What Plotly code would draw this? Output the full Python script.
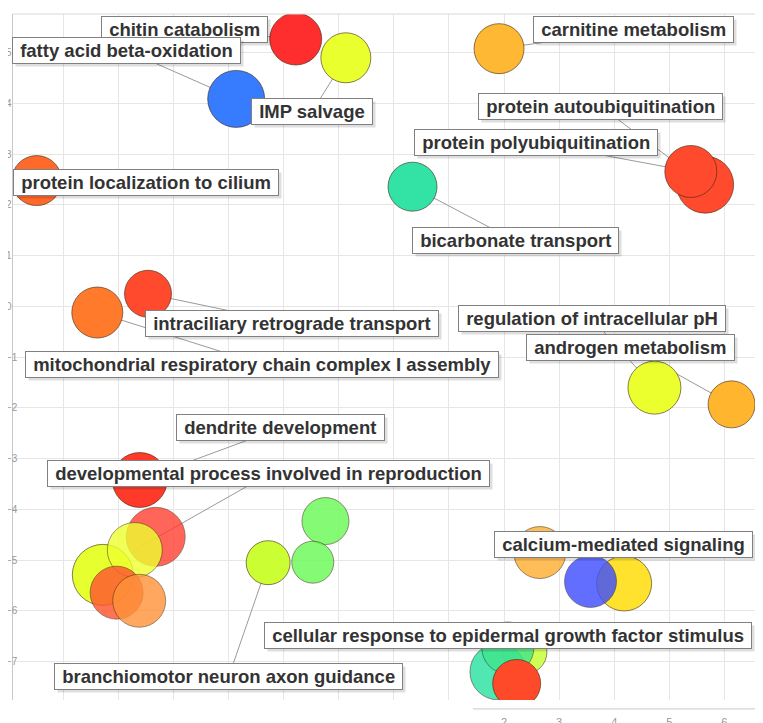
import plotly.graph_objects as go

# bubbles (drawn in this order, later ones on top)
terms = [
    "chitin catabolism", "IMP salvage", "fatty acid beta-oxidation",
    "protein localization to cilium", "carnitine metabolism", "bicarbonate transport",
    "protein autoubiquitination", "protein polyubiquitination",
    "intraciliary retrograde transport", "mitochondrial respiratory chain complex I assembly",
    "regulation of intracellular pH", "androgen metabolism", "dendrite development",
    "", "", "developmental process involved in reproduction", "", "",
    "", "", "branchiomotor neuron axon guidance",
    "", "calcium-mediated signaling", "",
    "", "", "cellular response to epidermal growth factor stimulus", "",
]
xs = [-1.78, -0.87, -2.86, -6.48, 1.91, 0.34, 5.65, 5.39, -4.46, -5.38,
      4.73, 6.13, -4.61, -4.32, -5.28, -4.70, -5.03, -4.62, -1.24, -1.47,
      -2.28, 2.65, 4.18, 3.57, 2.38, 1.89, 2.07, 2.23]
ys = [5.27, 4.90, 4.09, 2.48, 5.08, 2.36, 2.40, 2.66, 0.25, -0.12,
      -1.60, -1.93, -3.42, -4.54, -5.29, -4.80, -5.64, -5.80, -4.23, -5.04,
      -5.05, -4.85, -5.46, -5.42, -6.81, -7.20, -6.73, -7.43]
sizes = [2.60, 2.50, 2.85, 2.50, 2.50, 2.45, 2.85, 2.60, 2.35, 2.55,
         2.65, 2.35, 2.75, 2.95, 3.05, 2.75, 2.65, 2.65, 2.35, 2.10,
         2.20, 2.60, 2.75, 2.60, 2.20, 2.80, 2.60, 2.40]

colors = ["#FF2E2E", "#EAFF2E", "#377BFF", "#FF6A2A", "#FFB833", "#33E3A6",
          "#FF4A2E", "#FF4A2E", "#FF4A2E", "#FF7A2A", "#EBFF2E", "#FFB52E",
          "#FF3A2A", "#FF3A2A", "#E6FF2E", "#EEFF30", "#FF5530", "#FF9238",
          "#70FA5E", "#70FA5E", "#CCFF33", "#FFB23A", "#FFE22E", "#3F4FFF",
          "#CCFF44", "#33E3A6", "#3EE58A", "#FF4A2A"]
alphas = [1, 1, 1, 1, 1, 1, 1, 1, 1, 1, 1, 1, 1, 0.78, 1, 0.8, 0.82, 0.8,
          0.85, 0.85, 1, 0.85, 1, 0.82, 0.9, 0.85, 0.8, 1]

# label box centres, same order as terms ("" = no label)
label_x = [-3.79, -1.485, -4.842, -4.497, 4.359, 2.20, 3.76, 2.581, -1.848, -2.392,
           3.588, 4.287, -2.047, None, None, -2.265, None, None, None, None,
           -2.991, None, 4.169, None, None, None, 2.064, None]
label_y = [5.467, 3.837, 5.039, 2.437, 5.453, 1.293, 3.935, 3.226, -0.343, -1.142,
           -0.235, -0.816, -2.393, None, None, -3.30, None, None, None, None,
           -7.283, None, -4.70, None, None, None, -6.485, None]

fig = go.Figure()

# connector lines from label to bubble
cx, cy = [], []
for i, t in enumerate(terms):
    if t:
        cx += [label_x[i], xs[i], None]
        cy += [label_y[i], ys[i], None]
fig.add_trace(go.Scatter(x=cx, y=cy, mode="lines",
                         line=dict(color="#9a9a9a", width=1),
                         hoverinfo="skip", showlegend=False))

fig.add_trace(go.Scatter(
    x=xs, y=ys, mode="markers", text=terms, showlegend=False,
    marker=dict(size=sizes, sizemode="diameter", sizeref=0.05,
                color=colors, opacity=alphas,
                line=dict(color="rgba(60,40,20,0.6)", width=1)),
))

lab_font = dict(family="Liberation Sans, Arial", size=18.5, weight="bold")
for i, t in enumerate(terms):
    if not t:
        continue
    # shadow
    fig.add_annotation(x=label_x[i], y=label_y[i], text="&nbsp;" + t + "&nbsp;",
                       showarrow=False, xshift=3, yshift=-3,
                       bgcolor="rgba(0,0,0,0.13)", borderpad=2, borderwidth=1,
                       bordercolor="rgba(0,0,0,0)",
                       font=dict(lab_font, color="rgba(0,0,0,0)"))
    fig.add_annotation(x=label_x[i], y=label_y[i], text="&nbsp;" + t + "&nbsp;",
                       showarrow=False, bgcolor="white", borderpad=2, borderwidth=1,
                       bordercolor="#808080",
                       font=dict(lab_font, color="#333333"))

xticks = list(range(-6, 7))
xticktext = [str(v) if v >= 2 else "" for v in xticks]

fig.update_xaxes(range=[-6.91, 6.573], tickvals=xticks, ticktext=xticktext,
                 showgrid=True, gridcolor="#e6e6e6", zeroline=False,
                 showline=False, ticks="outside", ticklen=12,
                 tickcolor="rgba(0,0,0,0)", automargin=False,
                 tickfont=dict(family="Liberation Sans, Arial", size=11, color="#999999"))
fig.update_yaxes(range=[-7.756, 5.763], dtick=1, tick0=0,
                 showgrid=True, gridcolor="#e6e6e6", zeroline=False,
                 showline=True, linecolor="#c8c8c8", ticks="",
                 ticklabelposition="inside", ticklabelstandoff=-8,
                 automargin=False,
                 tickfont=dict(family="Liberation Sans, Arial", size=10, color="#999999"))

# page body adds an 8px offset, so the figure is a bit smaller than the window
fig.update_layout(
    width=755, height=715,
    margin=dict(l=5, r=7, t=6, b=23),
    paper_bgcolor="white", plot_bgcolor="white",
    shapes=[
        dict(type="line", xref="paper", yref="paper", x0=0, x1=1, y0=1, y1=1,
             line=dict(color="#d8d8d8", width=1)),
        dict(type="line", xref="paper", yref="paper", x0=1, x1=1, y0=-0.013, y1=1,
             line=dict(color="#d8d8d8", width=1)),
        dict(type="line", xref="paper", yref="paper", x0=0.619, x1=1, y0=-0.013, y1=-0.013,
             line=dict(color="#c8c8c8", width=1)),
    ],
)

fig.write_html("out.html")
